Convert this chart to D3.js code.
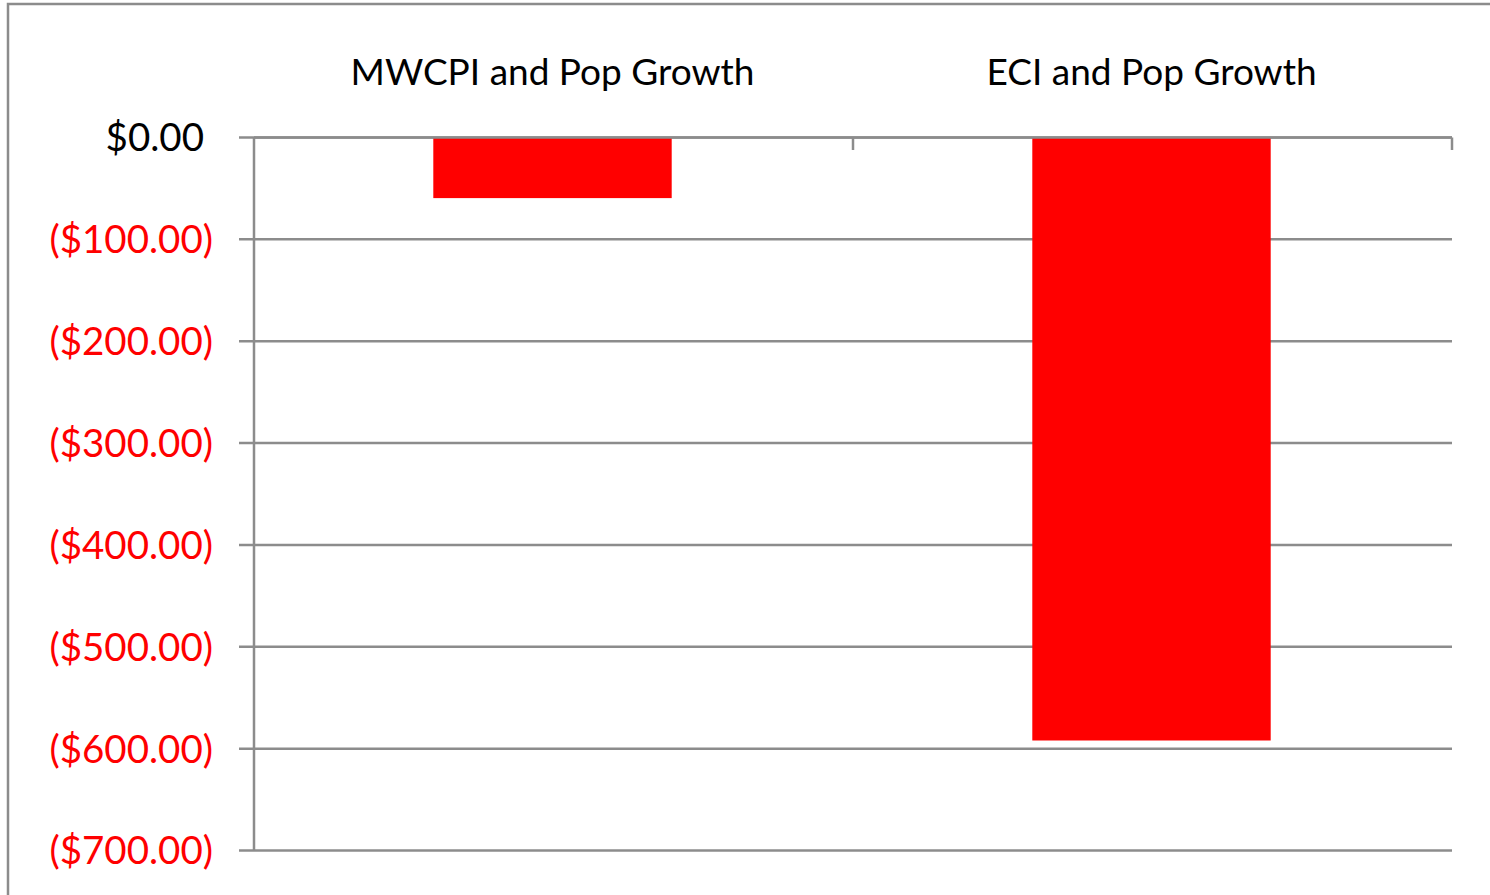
<!DOCTYPE html>
<html>
<head>
<meta charset="utf-8">
<script src="https://cdn.jsdelivr.net/npm/d3@7"></script>
<style>
  html, body { margin: 0; padding: 0; background: #fff; }
  svg { display: block; }
</style>
</head>
<body>
<svg id="chart" width="1490" height="895"></svg>
<script>
// Data
const categories = ["MWCPI and Pop Growth", "ECI and Pop Growth"];
const values = [-59.5, -592];
const tickValues = [0, -100, -200, -300, -400, -500, -600, -700];

const W = 1490, H = 895;
const margin = { left: 254, right: 38, top: 137.5, bottom: 44.5 };
const fontFamily = "Lato, 'Open Sans', sans-serif";
const grid = "#8c8c8c";

const svg = d3.select("#chart");

// outer chart frame (runs off the right and bottom edges)
svg.append("rect")
  .attr("x", 8).attr("y", 4)
  .attr("width", W + 20).attr("height", H + 20)
  .attr("fill", "none").attr("stroke", grid).attr("stroke-width", 2.5);

const x = d3.scaleBand()
  .domain(categories)
  .range([margin.left, W - margin.right])
  .paddingInner(0.602).paddingOuter(0.301);

const xOuter = d3.scaleBand()
  .domain(categories)
  .range([margin.left, W - margin.right]);

const y = d3.scaleLinear()
  .domain([0, -700])
  .range([margin.top, H - margin.bottom]);

const fmt = v => v < 0 ? "($" + d3.format(".2f")(-v) + ")" : "$" + d3.format(".2f")(v);

// horizontal gridlines
svg.append("g")
  .selectAll("line")
  .data(tickValues)
  .join("line")
  .attr("x1", margin.left - 15)
  .attr("x2", W - margin.right)
  .attr("y1", d => y(d)).attr("y2", d => y(d))
  .attr("stroke", grid).attr("stroke-width", 2.5);

// bars
svg.append("g")
  .selectAll("rect")
  .data(categories.map((c, i) => ({ c, v: values[i] })))
  .join("rect")
  .attr("x", d => x(d.c) - 1)
  .attr("width", x.bandwidth())
  .attr("y", d => y(Math.max(0, d.v)))
  .attr("height", d => Math.abs(y(d.v) - y(0)))
  .attr("fill", "#ff0000");

// category axis sits on the zero line, ticks at band boundaries
const boundaries = categories.map(c => xOuter(c)).concat([W - margin.right]);
svg.append("line")
  .attr("x1", margin.left).attr("x2", W - margin.right)
  .attr("y1", y(0)).attr("y2", y(0))
  .attr("stroke", grid).attr("stroke-width", 2.5);
svg.append("g")
  .selectAll("line")
  .data(boundaries.slice(1))
  .join("line")
  .attr("x1", d => d).attr("x2", d => d)
  .attr("y1", y(0)).attr("y2", y(0) + 12.5)
  .attr("stroke", grid).attr("stroke-width", 2.5);

// value axis line
svg.append("line")
  .attr("x1", margin.left).attr("x2", margin.left)
  .attr("y1", y(0)).attr("y2", y(-700))
  .attr("stroke", grid).attr("stroke-width", 2.5);

// value tick labels (negatives in red with parentheses)
svg.append("g")
  .selectAll("text")
  .data(tickValues)
  .join("text")
  .attr("x", d => d < 0 ? 213 : 204)
  .attr("y", d => y(d))
  .attr("dy", "0.36em")
  .attr("text-anchor", "end")
  .attr("font-family", fontFamily)
  .attr("font-size", 38.5)
  .attr("fill", d => d < 0 ? "#ff0000" : "#000")
  .text(fmt);

// category labels above the plot
svg.append("g")
  .selectAll("text")
  .data(categories)
  .join("text")
  .attr("x", d => xOuter(d) + xOuter.bandwidth() / 2 - 1)
  .attr("y", 72)
  .attr("dy", "0.36em")
  .attr("text-anchor", "middle")
  .attr("font-family", fontFamily)
  .attr("font-size", 37)
  .attr("fill", "#000")
  .text(d => d);
</script>
</body>
</html>
